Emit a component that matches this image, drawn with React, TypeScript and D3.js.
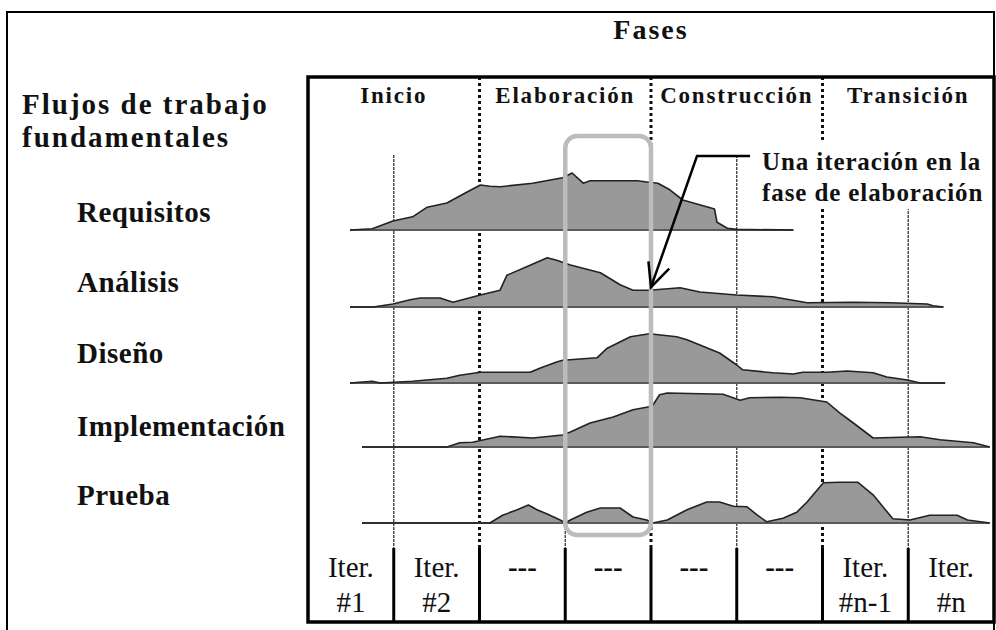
import * as d3 from 'd3'
import React, { useEffect, useRef } from 'react'

// phases / workflows / iterations
const PHASES = ['Inicio', 'Elaboración', 'Construcción', 'Transición']
const WORKFLOWS = ['Requisitos', 'Análisis', 'Diseño', 'Implementación', 'Prueba']
const ITERATIONS = [
  ['Iter.', '#1'],
  ['Iter.', '#2'],
  ['---'],
  ['---'],
  ['---'],
  ['---'],
  ['Iter.', '#n-1'],
  ['Iter.', '#n']
]

// effort per workflow: [iteration position, relative effort 0-100]
const requisitos: [number, number][] = [
  [0.49, 0], [0.75, 2], [0.99, 15], [1.22, 22], [1.39, 38], [1.62, 45], [1.85, 63],
  [2.01, 75], [2.12, 73], [2.24, 72], [2.62, 78], [2.97, 87], [3.08, 95], [3.21, 78],
  [3.29, 82], [3.84, 82], [3.95, 80], [4.08, 78], [4.22, 67], [4.37, 50], [4.69, 37],
  [4.74, 35], [4.77, 13], [4.89, 3], [5.0, 1], [5.66, 0]
]
const analisis: [number, number][] = [
  [0.49, 0], [0.76, 0], [0.99, 5], [1.19, 12], [1.31, 15], [1.54, 15], [1.69, 8],
  [2.01, 20], [2.24, 28], [2.32, 53], [2.55, 67], [2.79, 82], [2.9, 78], [3.06, 70],
  [3.41, 57], [3.64, 37], [3.79, 28], [3.98, 28], [4.34, 32], [4.57, 25], [5.0, 20],
  [5.42, 17], [5.82, 7], [6.36, 8], [6.79, 7], [7.22, 5], [7.29, 2], [7.41, 0]
]
const diseno: [number, number][] = [
  [0.49, 0], [0.75, 3], [0.84, 0], [1.22, 3], [1.62, 8], [1.77, 13], [2.01, 18],
  [2.59, 18], [2.71, 25], [2.9, 35], [2.97, 38], [3.37, 42], [3.49, 58], [3.76, 77],
  [3.98, 82], [4.3, 77], [4.42, 72], [4.8, 50], [5.0, 30], [5.07, 22], [5.42, 17],
  [5.66, 15], [5.77, 18], [6.05, 18], [6.29, 20], [6.59, 17], [6.75, 10], [6.99, 5],
  [7.14, 0], [7.43, 0]
]
const implementacion: [number, number][] = [
  [0.63, 0], [1.62, 0], [1.77, 7], [1.92, 8], [2.24, 18], [2.62, 15], [2.97, 20],
  [3.06, 25], [3.29, 40], [3.56, 50], [3.79, 62], [3.98, 67], [4.01, 67], [4.1, 87],
  [4.19, 90], [4.84, 88], [5.04, 78], [5.15, 82], [5.5, 83], [5.74, 82], [6.05, 75],
  [6.2, 57], [6.36, 40], [6.59, 15], [7.14, 17], [7.37, 12], [7.76, 7], [7.95, 0]
]
const prueba: [number, number][] = [
  [0.63, 0], [2.12, 0], [2.27, 13], [2.44, 22], [2.57, 30], [2.67, 22], [2.79, 15],
  [2.94, 5], [3.0, 0], [3.06, 5], [3.25, 18], [3.41, 25], [3.64, 25], [3.79, 10],
  [3.95, 5], [4.02, 0], [4.19, 5], [4.42, 22], [4.65, 35], [4.8, 35], [4.96, 28],
  [5.12, 27], [5.24, 13], [5.35, 2], [5.54, 8], [5.7, 18], [5.82, 35], [6.01, 67],
  [6.2, 68], [6.41, 68], [6.59, 47], [6.82, 7], [7.02, 5], [7.25, 13], [7.57, 13],
  [7.69, 5], [7.95, 0]
]
const SERIES = [requisitos, analisis, diseno, implementacion, prueba]

// highlighted iteration (column 4, inside Elaboración) and the arrow target
const HIGHLIGHT_ITER = 3
const ARROW_TARGET: [number, number] = [4.0, 33]

const FONT = '"Liberation Serif", "Times New Roman", serif'

const App = () => {
  const svgRef = useRef<SVGSVGElement>(null)

  const width = 996
  const height = 630
  const box = { left: 308, right: 994, top: 77, bottom: 622 }
  const iterTop = 548
  const rowBase = [230, 307, 383, 447, 523]
  const labelBase = [222, 292, 363, 436, 505]

  useEffect(() => {
    if (!svgRef.current) return
    d3.select(svgRef.current).selectAll('*').remove()

    const svg = d3.select(svgRef.current).attr('width', width).attr('height', height)

    const x = d3.scaleLinear().domain([0, ITERATIONS.length]).range([box.left, box.right])
    const h = d3.scaleLinear().domain([0, 100]).range([0, 60])

    svg.append('rect').attr('width', width).attr('height', height).attr('fill', '#fff')

    // outer frame
    svg
      .append('rect')
      .attr('x', 7)
      .attr('y', 12)
      .attr('width', box.right - 7)
      .attr('height', height)
      .attr('fill', 'none')
      .attr('stroke', '#000')
      .attr('stroke-width', 2)

    // title texts
    svg
      .append('text')
      .attr('x', x(4))
      .attr('y', 39)
      .attr('text-anchor', 'middle')
      .style('font-family', FONT)
      .style('font-size', '28px')
      .style('font-weight', 'bold')
      .style('letter-spacing', '2px')
      .style('fill', '#111')
      .text('Fases')

    const left = svg
      .append('text')
      .attr('x', 22)
      .attr('y', 114)
      .style('font-family', FONT)
      .style('font-size', '29px')
      .style('font-weight', 'bold')
      .style('letter-spacing', '2px')
      .style('fill', '#111')
    left.append('tspan').attr('x', 22).text('Flujos de trabajo')
    left.append('tspan').attr('x', 22).attr('dy', 33).text('fundamentales')

    // thin iteration lines
    svg
      .append('g')
      .selectAll('line')
      .data(d3.range(1, ITERATIONS.length, 2))
      .enter()
      .append('line')
      .attr('x1', (d) => x(d))
      .attr('x2', (d) => x(d))
      .attr('y1', 155)
      .attr('y2', iterTop)
      .attr('stroke', '#333')
      .attr('stroke-width', 1.3)
      .attr('stroke-dasharray', '3,1')

    // phase dividers (dotted)
    svg
      .append('g')
      .selectAll('line')
      .data(d3.range(2, ITERATIONS.length, 2))
      .enter()
      .append('line')
      .attr('x1', (d) => x(d))
      .attr('x2', (d) => x(d))
      .attr('y1', box.top)
      .attr('y2', iterTop)
      .attr('stroke', '#111')
      .attr('stroke-width', 3)
      .attr('stroke-dasharray', '3,3')

    // iteration row dividers
    svg
      .append('g')
      .selectAll('line')
      .data(d3.range(1, ITERATIONS.length))
      .enter()
      .append('line')
      .attr('x1', (d) => x(d))
      .attr('x2', (d) => x(d))
      .attr('y1', iterTop)
      .attr('y2', box.bottom)
      .attr('stroke', '#000')
      .attr('stroke-width', 3)

    // phase labels
    svg
      .append('g')
      .selectAll('text')
      .data(PHASES)
      .enter()
      .append('text')
      .attr('x', (d, i) => x(i * 2 + 1))
      .attr('y', 103)
      .attr('text-anchor', 'middle')
      .style('font-family', FONT)
      .style('font-size', '23px')
      .style('font-weight', 'bold')
      .style('letter-spacing', '1.8px')
      .style('fill', '#111')
      .text((d) => d)

    // workflow labels
    svg
      .append('g')
      .selectAll('text')
      .data(WORKFLOWS)
      .enter()
      .append('text')
      .attr('x', 77)
      .attr('y', (d, i) => labelBase[i])
      .style('font-family', FONT)
      .style('font-size', '29px')
      .style('font-weight', 'bold')
      .style('letter-spacing', '0.5px')
      .style('fill', '#111')
      .text((d) => d)

    // effort profiles
    SERIES.forEach((data, i) => {
      const base = rowBase[i]
      const area = d3
        .area<[number, number]>()
        .x((d) => x(d[0]))
        .y0(base)
        .y1((d) => base - h(d[1]))
      const line = d3
        .line<[number, number]>()
        .x((d) => x(d[0]))
        .y((d) => base - h(d[1]))

      const g = svg.append('g')
      g.append('path').datum(data).attr('fill', '#999').attr('d', area)
      g.append('line')
        .attr('x1', x(data[0][0]))
        .attr('x2', x(data[data.length - 1][0]))
        .attr('y1', base)
        .attr('y2', base)
        .attr('stroke', '#5a5a5a')
        .attr('stroke-width', 2)
      g.append('path')
        .datum(data)
        .attr('fill', 'none')
        .attr('stroke', '#222')
        .attr('stroke-width', 1.6)
        .attr('stroke-linejoin', 'round')
        .attr('d', line)
    })

    // iteration labels
    const iterG = svg.append('g')
    ITERATIONS.forEach((lines, i) => {
      const t = iterG
        .append('text')
        .attr('x', x(i + 0.5))
        .attr('y', 577)
        .attr('text-anchor', 'middle')
        .style('font-family', FONT)
        .style('font-size', '29px')
        .style('fill', '#111')
      lines.forEach((s, j) => {
        t.append('tspan')
          .attr('x', x(i + 0.5))
          .attr('dy', j === 0 ? 0 : 35)
          .style('font-weight', s === '---' ? 'bold' : 'normal')
          .text(s)
      })
    })

    // inner box
    svg
      .append('rect')
      .attr('x', box.left)
      .attr('y', box.top)
      .attr('width', box.right - box.left)
      .attr('height', box.bottom - box.top)
      .attr('fill', 'none')
      .attr('stroke', '#000')
      .attr('stroke-width', 3.5)

    // highlighted iteration
    svg
      .append('rect')
      .attr('x', x(HIGHLIGHT_ITER))
      .attr('y', 136)
      .attr('width', x(HIGHLIGHT_ITER + 1) - x(HIGHLIGHT_ITER))
      .attr('height', 399)
      .attr('rx', 12)
      .attr('fill', 'none')
      .attr('stroke', '#bcbcbc')
      .attr('stroke-width', 4.5)

    // annotation
    svg
      .append('rect')
      .attr('x', 757)
      .attr('y', 143)
      .attr('width', 232)
      .attr('height', 66)
      .attr('fill', '#fff')
    const note = svg
      .append('text')
      .attr('x', 762)
      .attr('y', 170)
      .style('font-family', FONT)
      .style('font-size', '25px')
      .style('font-weight', 'bold')
      .style('letter-spacing', '0.9px')
      .style('fill', '#111')
    note.append('tspan').attr('x', 762).text('Una iteración en la')
    note.append('tspan').attr('x', 762).attr('dy', 31).text('fase de elaboración')

    const tip: [number, number] = [x(ARROW_TARGET[0]), rowBase[1] - h(ARROW_TARGET[1])]
    const elbow: [number, number] = [697, 156]
    const dx = elbow[0] - tip[0]
    const dy = elbow[1] - tip[1]
    const len = Math.hypot(dx, dy)
    const ux = dx / len
    const uy = dy / len
    const barb = (a: number): [number, number] => {
      const r = (a * Math.PI) / 180
      return [
        tip[0] + 26 * (ux * Math.cos(r) - uy * Math.sin(r)),
        tip[1] + 26 * (ux * Math.sin(r) + uy * Math.cos(r))
      ]
    }
    svg
      .append('path')
      .attr('d', d3.line()([[750, 156], elbow, tip]))
      .attr('fill', 'none')
      .attr('stroke', '#000')
      .attr('stroke-width', 2.5)
    svg
      .append('path')
      .attr('d', d3.line()([barb(25), tip, barb(-25)]))
      .attr('fill', 'none')
      .attr('stroke', '#000')
      .attr('stroke-width', 2.5)
  }, [])

  return (
    <div style={ { position: 'absolute', left: 0, top: 0, background: '#fff' } }>
      <svg ref={ svgRef } style={ { display: 'block' } }></svg>
    </div>
  )
}

export default App
